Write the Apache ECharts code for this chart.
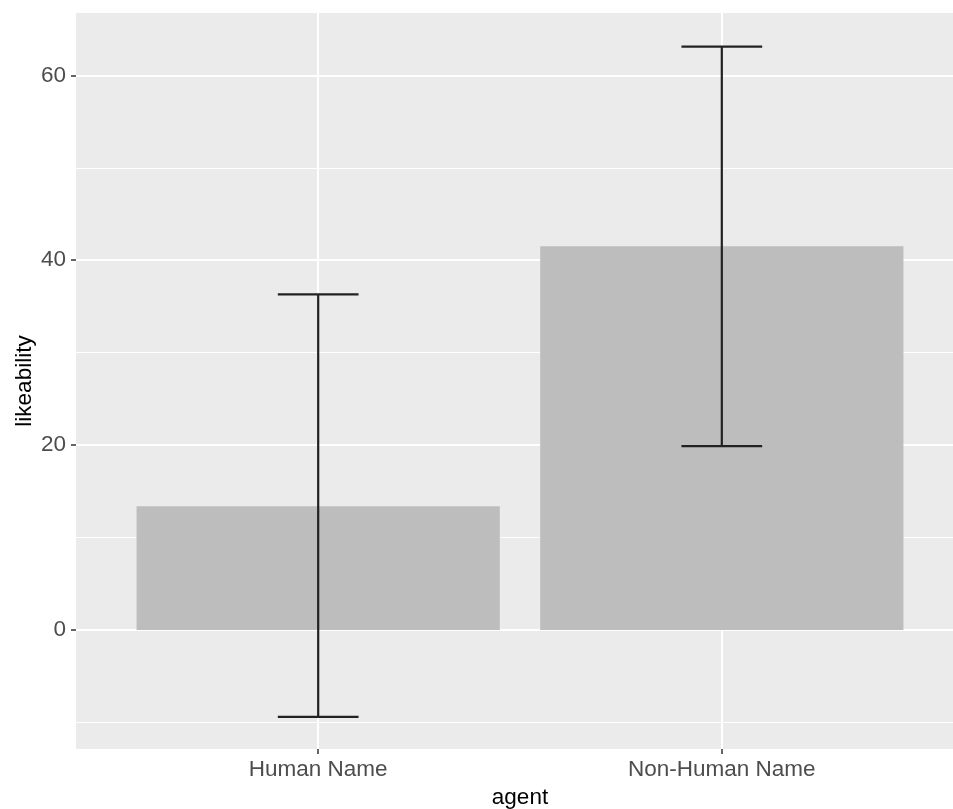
<!DOCTYPE html>
<html>
<head>
<meta charset="utf-8">
<script src="https://cdn.jsdelivr.net/npm/echarts@6/dist/echarts.min.js"></script>
<style>
html,body{margin:0;padding:0;background:#fff;}
#chart{width:953px;height:809px;}
</style>
</head>
<body>
<div id="chart"></div>
<script>
// ---- data ----
const categories = ['Human Name', 'Non-Human Name'];
const likeability = [13.4, 41.5];
const ciLower = [-9.4, 19.9];
const ciUpper = [36.3, 63.1];
const yTickValues = [0, 20, 40, 60];
const xTickValues = [1, 2];

// ---- style constants ----
const BAR_WIDTH = 0.9;
const CAP_WIDTH = 0.2;
const FONT = "'Liberation Sans', Arial, sans-serif";

const rows = categories.map((c, i) => [i + 1, likeability[i], ciLower[i], ciUpper[i]]);

const chart = echarts.init(document.getElementById('chart'), null, {renderer: 'canvas'});
chart.setOption({
  animation: false,
  backgroundColor: '#ffffff',
  grid: {
    left: 76, top: 13, right: -11, bottom: 60,
    show: true, backgroundColor: '#EBEBEB', borderWidth: 0,
    containLabel: false,
    outerBoundsMode: 'none'
  },
  xAxis: {
    type: 'value', min: 0.4, max: 2.6, splitNumber: 2,
    name: 'agent', nameLocation: 'middle', nameGap: 37,
    nameTextStyle: {color: '#000', fontSize: 22.5, fontFamily: FONT},
    axisLine: {show: false, onZero: false},
    axisTick: {show: true, customValues: xTickValues, length: 5, lineStyle: {color: '#333333', width: 1.5}},
    axisLabel: {
      customValues: xTickValues, margin: 9, color: '#4D4D4D', fontSize: 22.5, fontFamily: FONT,
      formatter: v => categories[Math.round(v) - 1] || ''
    },
    splitLine: {show: true, lineStyle: {color: '#ffffff', width: 2}},
    minorSplitLine: {show: false}
  },
  yAxis: {
    type: 'value', min: -12.87, max: 66.74, splitNumber: 4,
    name: 'likeability', nameLocation: 'middle', nameGap: 40, nameRotate: 90,
    nameMoveOverlap: false,
    nameTextStyle: {color: '#000', fontSize: 22.5, fontFamily: FONT},
    axisLine: {show: false, onZero: false},
    axisTick: {show: true, customValues: yTickValues, length: 5, lineStyle: {color: '#333333', width: 1.5}},
    axisLabel: {customValues: yTickValues, margin: 10, color: '#4D4D4D', fontSize: 22.5, fontFamily: FONT,
                padding: [3, 0, 0, 0]},
    splitLine: {show: true, lineStyle: {color: '#ffffff', width: 2}},
    minorTick: {show: false, splitNumber: 2},
    minorSplitLine: {show: true, lineStyle: {color: '#ffffff', width: 1}}
  },
  series: [
    {
      type: 'custom',
      name: 'bars',
      data: rows,
      encode: {x: 0, y: 1},
      renderItem: function (params, api) {
        const x = api.value(0), y = api.value(1);
        const p1 = api.coord([x - BAR_WIDTH / 2, y]);
        const p2 = api.coord([x + BAR_WIDTH / 2, 0]);
        return {
          type: 'rect',
          shape: {x: p1[0], y: Math.min(p1[1], p2[1]), width: p2[0] - p1[0], height: Math.abs(p2[1] - p1[1])},
          style: {fill: '#BDBDBD'}
        };
      },
      z: 2
    },
    {
      type: 'custom',
      name: 'errorbars',
      data: rows,
      encode: {x: 0, y: [2, 3]},
      renderItem: function (params, api) {
        const x = api.value(0), lo = api.value(2), hi = api.value(3);
        const top = api.coord([x, hi]);
        const bot = api.coord([x, lo]);
        const tl = api.coord([x - CAP_WIDTH / 2, hi]);
        const tr = api.coord([x + CAP_WIDTH / 2, hi]);
        const bl = api.coord([x - CAP_WIDTH / 2, lo]);
        const br = api.coord([x + CAP_WIDTH / 2, lo]);
        const st = {stroke: '#222222', lineWidth: 2.2};
        return {
          type: 'group',
          children: [
            {type: 'line', shape: {x1: top[0], y1: top[1], x2: bot[0], y2: bot[1]}, style: st},
            {type: 'line', shape: {x1: tl[0], y1: tl[1], x2: tr[0], y2: tr[1]}, style: st},
            {type: 'line', shape: {x1: bl[0], y1: bl[1], x2: br[0], y2: br[1]}, style: st}
          ]
        };
      },
      z: 3
    }
  ]
});
</script>
</body>
</html>
